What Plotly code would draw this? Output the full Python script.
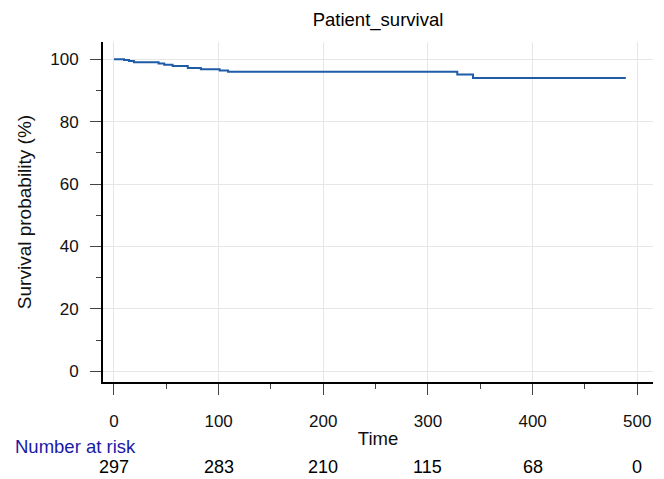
import plotly.graph_objects as go

# Kaplan-Meier step data
times = [0, 9.6, 14.4, 19, 42.6, 48, 56, 70.5, 83, 101, 109, 328, 343, 489]
surv = [100, 99.7, 99.4, 99.0, 98.6, 98.2, 97.8, 97.2, 96.8, 96.4, 96.0, 95.1, 94.0, 94.0]

risk_times = [0, 100, 200, 300, 400, 500]
risk_counts = [297, 283, 210, 115, 68, 0]

x_ticks = [0, 100, 200, 300, 400, 500]
y_ticks = [0, 20, 40, 60, 80, 100]

FONT = "Liberation Sans, Arial, sans-serif"

fig = go.Figure()
fig.add_trace(go.Scatter(
    x=times, y=surv, mode="lines", line=dict(color="#1f5ba6", width=2, shape="hv"),
    showlegend=False, hoverinfo="skip"))

annotations = [dict(text=str(c), x=t, xref="x", y=0, yref="paper", yanchor="middle",
                    xanchor="center", yshift=-85, showarrow=False,
                    font=dict(family=FONT, size=18, color="#000000"))
               for t, c in zip(risk_times, risk_counts)]
annotations.append(dict(text="Number at risk", x=(13 - 103) / 550, xref="paper", xanchor="left",
                        y=0, yref="paper", yanchor="middle", yshift=-64, showarrow=False,
                        font=dict(family=FONT, size=18.5, color="#1a1aa6")))

fig.update_layout(
    width=664, height=479,
    margin=dict(l=103, r=11, t=42, b=97),
    paper_bgcolor="white", plot_bgcolor="white",
    font=dict(family=FONT, size=17, color="#111111"),
    title=dict(text="Patient_survival", x=0.5, xref="paper", y=1 - 20 / 479, yref="container",
               xanchor="center", yanchor="middle", font=dict(family=FONT, size=18.5, color="#000")),
    annotations=annotations,
    xaxis=dict(
        range=[-10.5, 515], tickvals=x_ticks, showgrid=True, gridcolor="#e6e6e6", gridwidth=1,
        showline=True, linecolor="#000", linewidth=2, zeroline=False,
        ticks="outside", ticklen=11, tickwidth=1, tickcolor="#444",
        minor=dict(dtick=50, tick0=0, ticks="outside", ticklen=5, tickwidth=1, tickcolor="#444", showgrid=False),
        ticklabelstandoff=12,
        title=dict(text="Time", standoff=2, font=dict(family=FONT, size=18.5)),
    ),
    yaxis=dict(
        range=[-3.43, 105.5], tickvals=y_ticks, showgrid=True, gridcolor="#e6e6e6", gridwidth=1,
        showline=True, linecolor="#000", linewidth=2, zeroline=False,
        ticks="outside", ticklen=11, tickwidth=1, tickcolor="#444",
        minor=dict(dtick=10, tick0=0, ticks="outside", ticklen=5, tickwidth=1, tickcolor="#444", showgrid=False),
        ticklabelstandoff=8,
        title=dict(text="Survival probability (%)", standoff=14, font=dict(family=FONT, size=19)),
    ),
)

fig.write_html("out.html", config={"displayModeBar": False},
               post_script="document.body.style.margin='0';")
